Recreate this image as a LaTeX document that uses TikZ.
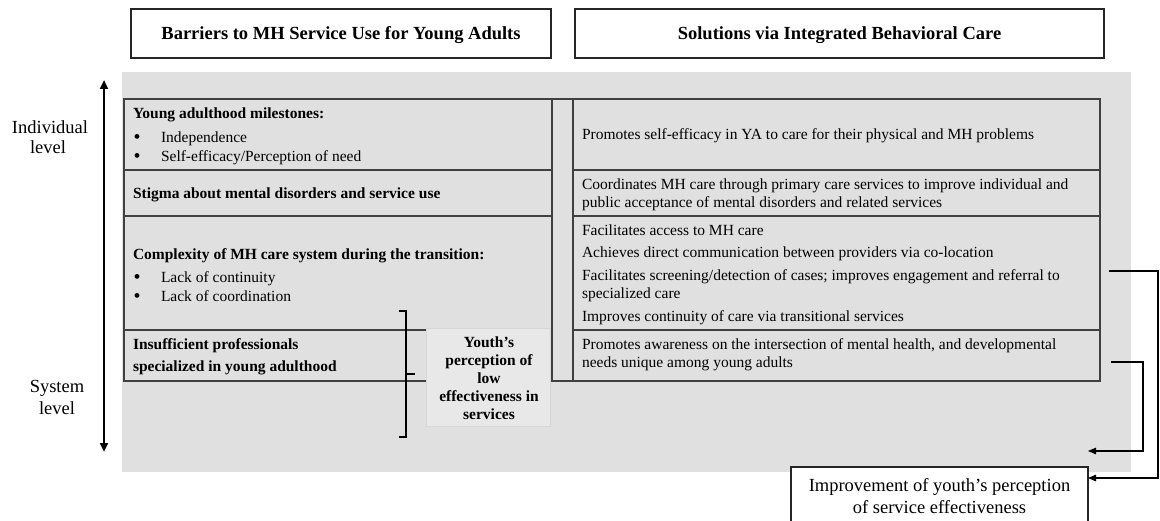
\documentclass[tikz,border=0pt]{standalone}
\usepackage{fontspec}
\setmainfont{Liberation Serif}
\usetikzlibrary{arrows.meta}
\begin{document}
\begin{tikzpicture}[x=1pt,y=-1pt,
 every node/.style={inner sep=0pt, outer sep=0pt},
 hdrbox/.style={draw=black!85, line width=1.2pt, fill=white},
 hdrtx/.style={anchor=base, font=\fontsize{18.5}{21}\selectfont\bfseries},
 cell/.style={draw=black!75, line width=1.1pt},
 tx/.style={anchor=base west, font=\fontsize{15.5}{18}\selectfont},
 btx/.style={anchor=base west, font=\fontsize{15.5}{18}\selectfont\bfseries},
 ytx/.style={anchor=base, font=\fontsize{15.5}{18}\selectfont\bfseries},
 bul/.style={anchor=base, font=\fontsize{20}{18}\selectfont},
 lvl/.style={anchor=base, font=\fontsize{18.5}{20.5}\selectfont},
 conn/.style={draw=black, line width=1.1pt, -{Triangle[length=8pt,width=6.5pt]}},
 bigarrow/.style={line width=2.6pt, {Triangle[length=9pt,width=8pt]}-{Triangle[length=9pt,width=8pt]}},
]
\useasboundingbox (0,0) rectangle (1160,521);
\clip (0,0) rectangle (1160,521);

% headers
\node[hdrbox, minimum width=420, minimum height=49] (hl) at (341,33.5) {};
\node[hdrtx] (hlt) at (341,40) {Barriers to MH Service Use for Young Adults};
\node[hdrbox, minimum width=529, minimum height=49] (hr) at (839.5,33.5) {};
\node[hdrtx] (hrt) at (839.5,40) {Solutions via Integrated Behavioral Care};

% gray background
\fill[black!12] (122,72) rectangle (1131,472);

% level axis
\coordinate (lvtop) at (104,80);
\coordinate (lvbot) at (104,452);
\draw[bigarrow] (lvtop) -- (lvbot);
\node[lvl] (ind1) at (50,134) {Individual};
\node[lvl] (ind2) at (48,154) {level};
\node[lvl] (sys1) at (57,393) {System};
\node[lvl] (sys2) at (57,414) {level};

% left table
\node[cell, minimum width=428, minimum height=71] (l1) at (338,134.5) {};
\node[cell, minimum width=428, minimum height=46] (l2) at (338,193) {};
\node[cell, minimum width=428, minimum height=114] (l3) at (338,273) {};
\node[cell, minimum width=428, minimum height=51] (l4) at (338,355.5) {};
% middle column
\node[cell, minimum width=21, minimum height=282] (mid) at (562.5,240) {};
% right table
\node[cell, minimum width=527, minimum height=71] (r1) at (836.5,134.5) {};
\node[cell, minimum width=527, minimum height=46] (r2) at (836.5,193) {};
\node[cell, minimum width=527, minimum height=114] (r3) at (836.5,273) {};
\node[cell, minimum width=527, minimum height=51] (r4) at (836.5,355.5) {};

% left texts
\node[btx] (t11) at (133,119) {Young adulthood milestones:};
\node[bul] (b12) at (137,144) {•};
\node[tx] (t12) at (161,143) {Independence};
\node[bul] (b13) at (137,163) {•};
\node[tx] (t13) at (161,162) {Self-efficacy/Perception of need};
\node[btx] (t21) at (133,199) {Stigma about mental disorders and service use};
\node[btx] (t31) at (133,260) {Complexity of MH care system during the transition:};
\node[bul] (b32) at (137,284) {•};
\node[tx] (t32) at (161,283) {Lack of continuity};
\node[bul] (b33) at (137,303) {•};
\node[tx] (t33) at (161,302) {Lack of coordination};
\node[btx] (t41) at (133,350) {Insufficient professionals};
\node[btx] (t42) at (133,372) {specialized in young adulthood};

% right texts
\node[tx] (s11) at (582,140) {Promotes self-efficacy in YA to care for their physical and MH problems};
\node[tx] (s21) at (582,190) {Coordinates MH care through primary care services to improve individual and};
\node[tx] (s22) at (582,208) {public acceptance of mental disorders and related services};
\node[tx] (s31) at (582,236) {Facilitates access to MH care};
\node[tx] (s32) at (582,258) {Achieves direct communication between providers via co-location};
\node[tx] (s33) at (582,281) {Facilitates screening/detection of cases; improves engagement and referral to};
\node[tx] (s34) at (582,299) {specialized care};
\node[tx] (s35) at (582,322) {Improves continuity of care via transitional services};
\node[tx] (s41) at (582,350) {Promotes awareness on the intersection of mental health, and developmental};
\node[tx] (s42) at (582,368) {needs unique among young adults};

% youth box
\node[fill=black!9, draw=black!16, line width=0.6pt, minimum width=124, minimum height=98] (youth) at (488.5,377) {};
\node[ytx] (y1) at (489,348) {Youth’s};
\node[ytx] (y2) at (489,366) {perception of};
\node[ytx] (y3) at (489,384) {low};
\node[ytx] (y4) at (489,402) {effectiveness in};
\node[ytx] (y5) at (489,420) {services};

% bracket
\draw[line width=2.8pt, line join=miter] (399,311) -- (406,311) -- (406,437) -- (399,437);
\draw[line width=2.8pt] (406,374) -- (415,374);

% improvement box
\node[draw=black!85, line width=1.1pt, fill=white, minimum width=297, minimum height=70] (imp) at (939.5,502) {};
\node[lvl] (imp1) at (939.5,491) {Improvement of youth’s perception};
\node[lvl] (imp2) at (939.5,513) {of service effectiveness};

% connectors
\draw[conn] ([xshift=9pt,yshift=2pt]r3.east) -- ++(49,0) |- ([yshift=-11pt]imp.north east);
\draw[conn] ([xshift=11pt,yshift=-6.5pt]r4.east) -- ++(32,0) |- ([yshift=16pt]imp.north east);
\end{tikzpicture}
\end{document}
